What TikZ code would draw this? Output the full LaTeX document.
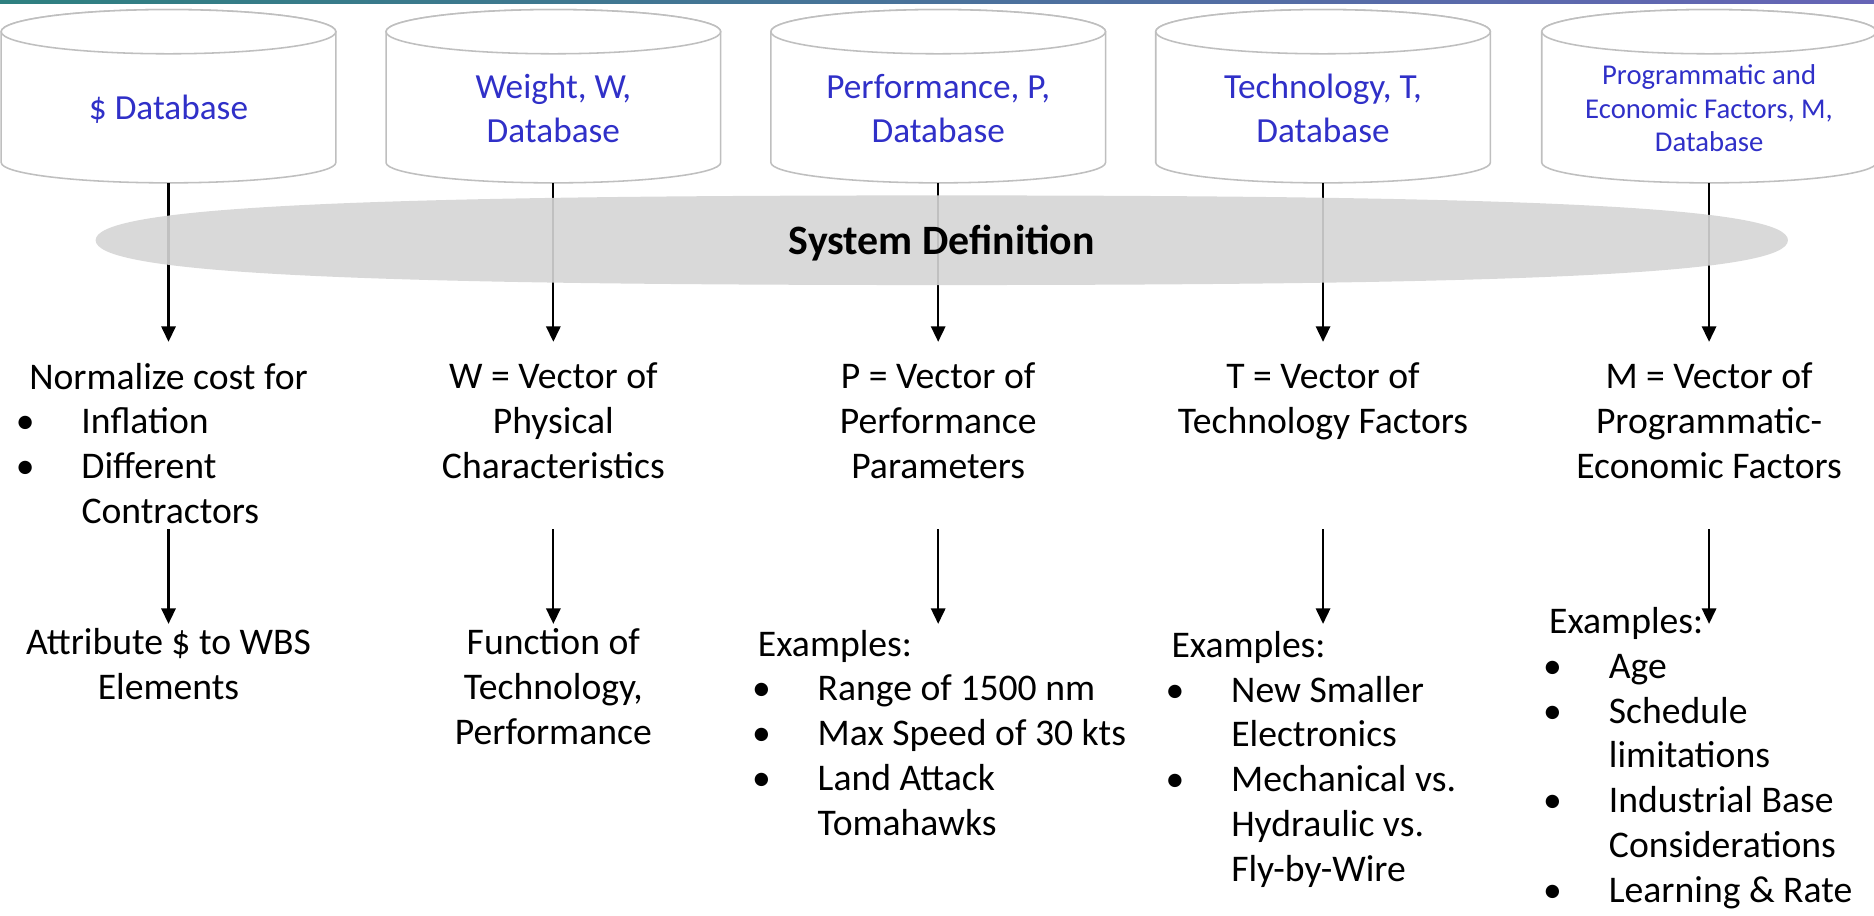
\documentclass[tikz,border=0pt]{standalone}
\usepackage{fontspec}
\setmainfont{Carlito}
\usetikzlibrary{arrows.meta}
\definecolor{dbblue}{RGB}{48,48,200}
\definecolor{dbedge}{RGB}{191,191,191}
\definecolor{sysgray}{RGB}{213,213,213}
\definecolor{barleft}{RGB}{46,128,128}
\definecolor{barright}{RGB}{102,100,182}
% bullet and continuation indent for the example lists
\newcommand\bul{\makebox[50pt][l]{\hspace*{-5pt}\textbullet}}
\newcommand\cont{\hspace*{50pt}}

\begin{document}
% multi-line nodes are placed by the baseline of their last line
\begin{tikzpicture}[x=1pt,y=1pt,
  cylbody/.style={draw=dbedge,fill=white,line width=1.3pt},
  dblabel/.style={text=dbblue,align=center,anchor=base,inner sep=0pt,
    font=\fontsize{29.5}{37}\selectfont},
  dbsmall/.style={text=dbblue,align=center,anchor=base,inner sep=0pt,
    font=\fontsize{24}{28}\selectfont},
  body/.style={align=center,anchor=base,inner sep=0pt,
    font=\fontsize{31.5}{37.5}\selectfont},
  list/.style={align=left,anchor=base west,inner sep=0pt,
    font=\fontsize{31.5}{37.5}\selectfont},
  flow/.style={line width=1.8pt,-{Triangle[width=12pt,length=13pt]}}]

\useasboundingbox (0,0) rectangle (1568,-766);

% header rule
\shade[left color=barleft,right color=barright] (0,0) rectangle (1568,-2.7);

% database cylinders
\foreach \cx in {141,463,785,1107,1430}{
  \filldraw[cylbody] (\cx-140,-26.5) -- (\cx-140,-136)
    arc[start angle=180,end angle=360,x radius=140,y radius=17]
    -- (\cx+140,-26.5)
    arc[start angle=0,end angle=180,x radius=140,y radius=18.5] -- cycle;
  \draw[cylbody] (\cx,-26.5) ellipse[x radius=140,y radius=18.5];
}

% arrow end points
\foreach \i/\cx in {1/141,2/463,3/785,4/1107,5/1430}{
  \coordinate (top\i) at (\cx,-153);
  \coordinate (mid\i) at (\cx,-286);
  \coordinate (low\i) at (\cx,-443);
  \coordinate (end\i) at (\cx,-522);
}

% arrows from the databases, passing under the system definition band
\foreach \i in {1,...,5}{
  \draw[flow] (top\i) -- (mid\i);
}

% system definition band
\fill[sysgray,fill opacity=0.9] (80,-201)
  .. controls (80,-174) and (278.2,-163.5) .. (788,-163.5)
  .. controls (1297.8,-163.5) and (1496,-174) .. (1496,-201)
  .. controls (1496,-228) and (1297.8,-238.5) .. (788,-238.5)
  .. controls (278.2,-238.5) and (80,-228) .. (80,-201) -- cycle;
\node[anchor=base,inner sep=0pt,font=\fontsize{35}{40}\selectfont\bfseries]
  (sys) at (788,-212.6) {System Definition};

% database labels
\node[dblabel] (db1) at (141,-100) {\$ Database};
\node[dblabel] (db2) at (463,-119) {Weight, W,\\Database};
\node[dblabel] (db3) at (785,-119) {Performance, P,\\Database};
\node[dblabel] (db4) at (1107,-119) {Technology, T,\\Database};
\node[dbsmall] (db5) at (1430,-127) {Programmatic and\\Economic Factors, M,\\Database};

% vectors
\node[body] (n1) at (141,-326) {Normalize cost for};
\node[list] (n1b) at (18,-438) {\bul Inflation\\\bul Different\\\cont Contractors};
\node[body] (v2) at (463,-400) {W = Vector of\\Physical\\Characteristics};
\node[body] (v3) at (785,-400) {P = Vector of\\Performance\\Parameters};
\node[body] (v4) at (1107,-362.5) {T = Vector of\\Technology Factors};
\node[body] (v5) at (1430,-400) {M = Vector of\\Programmatic-\\Economic Factors};

% second stage arrows
\foreach \i in {1,...,5}{
  \draw[flow] (low\i) -- (end\i);
}

% results and examples
\node[body] (r1) at (141,-585.5) {Attribute \$ to WBS\\Elements};
\node[body] (r2) at (463,-623) {Function of\\Technology,\\Performance};
\node[list] (r3) at (634,-699) {Examples:\\\bul Range of 1500 nm\\\bul Max Speed of 30 kts\\\bul Land Attack\\\cont Tomahawks};
\node[list] (r4) at (980,-737.5) {Examples:\\\bul New Smaller\\\cont Electronics\\\bul Mechanical vs.\\\cont Hydraulic vs.\\\cont Fly-by-Wire};
\node[list] (r5) at (1296,-755) {Examples:\\\bul Age\\\bul Schedule\\\cont limitations\\\bul Industrial Base\\\cont Considerations\\\bul Learning \& Rate};
\end{tikzpicture}
\end{document}
